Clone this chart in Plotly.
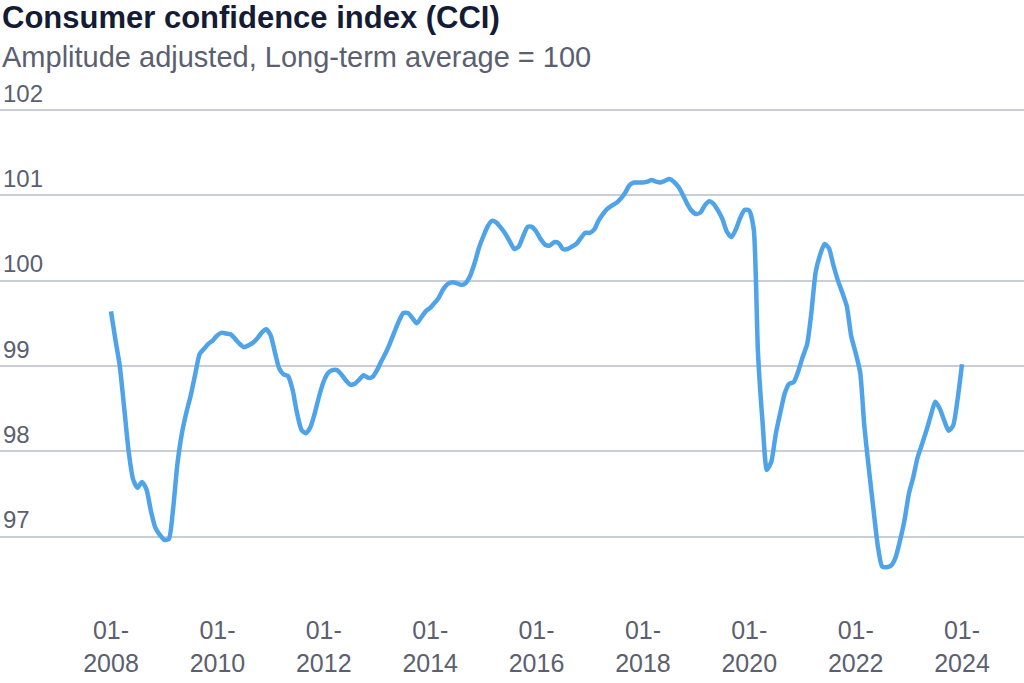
import pandas as pd
import plotly.graph_objects as go

# Monthly CCI values, Jan 2008 .. Jan 2024
cci_2008 = [99.64, 99.3, 99.0, 98.5, 98.0, 97.67, 97.57, 97.64, 97.55, 97.3, 97.1, 97.02]
cci_2009 = [96.96, 96.97, 97.3, 97.85, 98.2, 98.45, 98.65, 98.9, 99.14, 99.2, 99.26, 99.3]
cci_2010 = [99.36, 99.39, 99.38, 99.37, 99.32, 99.26, 99.22, 99.24, 99.27, 99.32, 99.39, 99.43]
cci_2011 = [99.36, 99.15, 98.97, 98.9, 98.88, 98.72, 98.45, 98.25, 98.21, 98.28, 98.45, 98.65]
cci_2012 = [98.82, 98.92, 98.95, 98.95, 98.9, 98.83, 98.78, 98.79, 98.84, 98.89, 98.86, 98.87]
cci_2013 = [98.95, 99.06, 99.15, 99.27, 99.4, 99.53, 99.62, 99.62, 99.56, 99.5, 99.57, 99.64]
cci_2014 = [99.68, 99.74, 99.8, 99.9, 99.96, 99.98, 99.97, 99.95, 99.97, 100.05, 100.2, 100.38]
cci_2015 = [100.52, 100.64, 100.7, 100.68, 100.62, 100.55, 100.46, 100.37, 100.4, 100.52, 100.63, 100.63]
cci_2016 = [100.57, 100.48, 100.42, 100.41, 100.45, 100.44, 100.37, 100.37, 100.4, 100.43, 100.5, 100.56]
cci_2017 = [100.56, 100.6, 100.7, 100.78, 100.84, 100.88, 100.91, 100.96, 101.03, 101.12, 101.15, 101.15]
cci_2018 = [101.15, 101.16, 101.18, 101.16, 101.15, 101.17, 101.19, 101.16, 101.1, 101.01, 100.9, 100.82]
cci_2019 = [100.78, 100.8, 100.88, 100.93, 100.9, 100.82, 100.72, 100.57, 100.51, 100.6, 100.74, 100.83]
cci_2020 = [100.82, 100.6, 99.15, 98.35, 97.78, 97.88, 98.2, 98.45, 98.68, 98.79, 98.81, 98.93]
cci_2021 = [99.1, 99.25, 99.6, 100.1, 100.3, 100.43, 100.38, 100.18, 100.0, 99.86, 99.7, 99.35]
cci_2022 = [99.15, 98.92, 98.3, 97.8, 97.35, 96.9, 96.65, 96.64, 96.66, 96.75, 96.95, 97.18]
cci_2023 = [97.5, 97.7, 97.92, 98.08, 98.24, 98.42, 98.58, 98.5, 98.36, 98.24, 98.3, 98.6]
cci_2024 = [99.02]

cci = (cci_2008 + cci_2009 + cci_2010 + cci_2011 + cci_2012 + cci_2013 + cci_2014 +
       cci_2015 + cci_2016 + cci_2017 + cci_2018 + cci_2019 + cci_2020 + cci_2021 +
       cci_2022 + cci_2023 + cci_2024)
dates = pd.date_range("2008-01-01", periods=len(cci), freq="MS")

tick_years = [2008, 2010, 2012, 2014, 2016, 2018, 2020, 2022, 2024]
tick_vals = [f"{y}-01-01" for y in tick_years]
tick_text = [f"01-<br>{y}" for y in tick_years]
y_ticks = [97, 98, 99, 100, 101, 102]

# x range so that Jan 2008 sits at x=111 px and Jan 2024 at x=962 px (plot 0..1024)
t0 = pd.Timestamp("2008-01-01")
t1 = pd.Timestamp("2024-01-01")
px_per_day = (962 - 111) / (t1 - t0).days
x_start = t0 - pd.Timedelta(days=111 / px_per_day)
x_end = t1 + pd.Timedelta(days=(1024 - 962) / px_per_day)

# y: 85.3 px per unit, 102 gridline at 110 px from top
PPU = 85.3
TOP = 75
BOT = 78
y_top = 102 + (110 - TOP) / PPU
y_bot = y_top - (683 - TOP - BOT) / PPU

fig = go.Figure()
fig.add_trace(go.Scatter(
    x=dates, y=cci, mode="lines",
    line=dict(color="#4fa3e8", width=4.5, shape="spline", smoothing=0.6),
    hoverinfo="x+y", showlegend=False,
))

fig.update_layout(
    width=1024, height=683,
    margin=dict(l=0, r=0, t=TOP, b=BOT),
    paper_bgcolor="white", plot_bgcolor="white",
    font=dict(family="Liberation Sans, Arial, sans-serif", color="#5b6070"),
    xaxis=dict(
        range=[x_start, x_end], tickvals=tick_vals, ticktext=tick_text,
        showgrid=False, zeroline=False, showline=False, ticks="",
        tickfont=dict(size=25, color="#5b6070"), ticklabelstandoff=8,
    ),
    yaxis=dict(
        range=[y_bot, y_top], tickvals=y_ticks,
        showgrid=True, gridcolor="#c9cdd8", gridwidth=1.5, zeroline=False,
        showline=False, ticks="", ticklabelposition="inside top",
        tickfont=dict(size=24, color="#5b6070"),
    ),
    annotations=[
        dict(text="<b>Consumer confidence index (CCI)</b>", x=0, y=683 - 17,
             xref="paper", yref="paper", showarrow=False, xanchor="left", yanchor="middle",
             font=dict(size=31, color="#141b34")),
        dict(text="Amplitude adjusted, Long-term average = 100", x=0, y=683 - 57,
             xref="paper", yref="paper", showarrow=False, xanchor="left", yanchor="middle",
             font=dict(size=29, color="#5b6070")),
    ],
)

plot_h = 683 - TOP - BOT
for a in fig.layout.annotations:
    a.y = (a.y - BOT) / plot_h

fig.write_html("out.html")
